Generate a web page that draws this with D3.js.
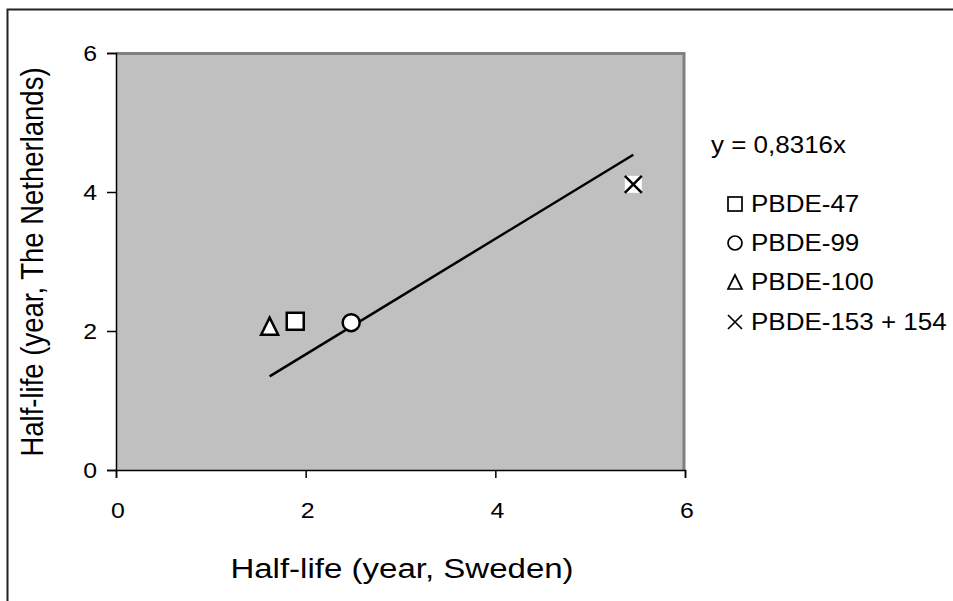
<!DOCTYPE html>
<html>
<head>
<meta charset="utf-8">
<script src="https://cdn.jsdelivr.net/npm/d3@7"></script>
<style>
  html, body { margin: 0; padding: 0; background: #fff; }
  svg { display: block; font-family: Arial, "Liberation Sans", sans-serif; }
</style>
</head>
<body>
<svg id="chart" width="953" height="601"></svg>
<script>
// Half-life estimates per congener (Sweden vs. The Netherlands)
const congeners = ["PBDE-47", "PBDE-99", "PBDE-100", "PBDE-153 + 154"];
const symbols   = ["square", "circle", "triangle", "cross"];
const swedenHalfLife = [1.89, 2.48, 1.62, 5.455];
const nlHalfLife     = [2.14, 2.12, 2.07, 4.11];
const slope = 0.8316;
const xTicks = [0, 2, 4, 6];
const yTicks = [0, 2, 4, 6];

const svg = d3.select("#chart");
const plot = { left: 116, right: 685, top: 53, bottom: 470 };

const x = d3.scaleLinear().domain([0, 6]).range([plot.left, plot.right]);
const y = d3.scaleLinear().domain([0, 6]).range([plot.bottom, plot.top]);

// text helper: positioned label with horizontal stretch
function label(g, px, py, txt, size, anchor, rotate, stretch = 1.13) {
  return g.append("text")
    .attr("transform", `translate(${px},${py})${rotate ? ` rotate(${rotate})` : ""} scale(${rotate ? "1," + stretch : stretch + ",1"})`)
    .attr("text-anchor", anchor || "start")
    .attr("font-size", size).attr("fill", "#000")
    .text(txt);
}

// outer chart frame
svg.append("path")
  .attr("d", "M7.5,601 L7.5,9.5 L953,9.5")
  .attr("fill", "none").attr("stroke", "#222").attr("stroke-width", 2);

// plot area
svg.append("rect")
  .attr("x", plot.left).attr("y", plot.top)
  .attr("width", plot.right - plot.left).attr("height", plot.bottom - plot.top)
  .attr("fill", "#c0c0c0");
svg.append("path")
  .attr("d", `M${plot.left},${plot.top + 0.5} L${plot.right - 1},${plot.top + 0.5} L${plot.right - 1},${plot.bottom}`)
  .attr("fill", "none").attr("stroke", "#808080").attr("stroke-width", 3);

// axes (lines and ticks from d3, labels drawn stretched)
const xAxis = svg.append("g")
  .attr("transform", `translate(0,${plot.bottom})`)
  .call(d3.axisBottom(x).tickValues(xTicks).tickSize(8).tickFormat(""));
const yAxis = svg.append("g")
  .attr("transform", `translate(${plot.left},0)`)
  .call(d3.axisLeft(y).tickValues(yTicks).tickSize(9).tickFormat(""));
[xAxis, yAxis].forEach(g => {
  g.select(".domain").attr("stroke", "#000").attr("stroke-width", 1.5);
  g.selectAll(".tick line").attr("stroke", "#000").attr("stroke-width", 1.5);
  g.selectAll(".tick text").remove();
});
const tickLabels = svg.append("g");
xTicks.forEach(t => label(tickLabels, x(t) + 2, plot.bottom + 48, d3.format("d")(t), 22, "middle"));
yTicks.forEach(t => label(tickLabels, 97, y(t) + 8, d3.format("d")(t), 22, "end"));

// axis titles
label(svg, 402, 578, "Half-life (year, Sweden)", 28, "middle", 0, 1.18);
label(svg, 43, 262, "Half-life (year, The Netherlands)", 27.5, "middle", -90, 1.15);

// regression line through origin, drawn over the observed x range
const [xMin, xMax] = d3.extent(swedenHalfLife);
svg.append("line")
  .attr("x1", x(xMin)).attr("y1", y(slope * xMin))
  .attr("x2", x(xMax)).attr("y2", y(slope * xMax))
  .attr("stroke", "#000").attr("stroke-width", 2.5);

// marker drawing helper
function drawMarker(g, type, cx, cy, s, sw) {
  const h = s / 2;
  if (type === "square") {
    g.append("rect").attr("x", cx - h).attr("y", cy - h).attr("width", s).attr("height", s)
      .attr("fill", "#fff").attr("stroke", "#000").attr("stroke-width", sw);
  } else if (type === "circle") {
    g.append("circle").attr("cx", cx).attr("cy", cy).attr("r", h)
      .attr("fill", "#fff").attr("stroke", "#000").attr("stroke-width", sw);
  } else if (type === "triangle") {
    g.append("path")
      .attr("d", `M${cx},${cy - h} L${cx + h},${cy + h} L${cx - h},${cy + h} Z`)
      .attr("fill", "#fff").attr("stroke", "#000").attr("stroke-width", sw).attr("stroke-linejoin", "miter");
  } else if (type === "cross") {
    g.append("rect").attr("x", cx - h).attr("y", cy - h).attr("width", s).attr("height", s)
      .attr("fill", "#fff");
    g.append("path")
      .attr("d", `M${cx - h},${cy - h} L${cx + h},${cy + h} M${cx + h},${cy - h} L${cx - h},${cy + h}`)
      .attr("stroke", "#000").attr("stroke-width", sw);
  }
}

// data points
const pts = svg.append("g");
congeners.forEach((c, i) => {
  drawMarker(pts, symbols[i], x(swedenHalfLife[i]), y(nlHalfLife[i]), 17, 2.5);
});

// legend
const leg = svg.append("g");
label(leg, 711, 153, "y = " + String(slope).replace(".", ",") + "x", 23);
const legY = [204, 243, 282, 322];
congeners.forEach((c, i) => {
  drawMarker(leg, symbols[i], 735, legY[i], 14, 1.7);
  label(leg, 751, legY[i] + 8, c, 23);
});
</script>
</body>
</html>
